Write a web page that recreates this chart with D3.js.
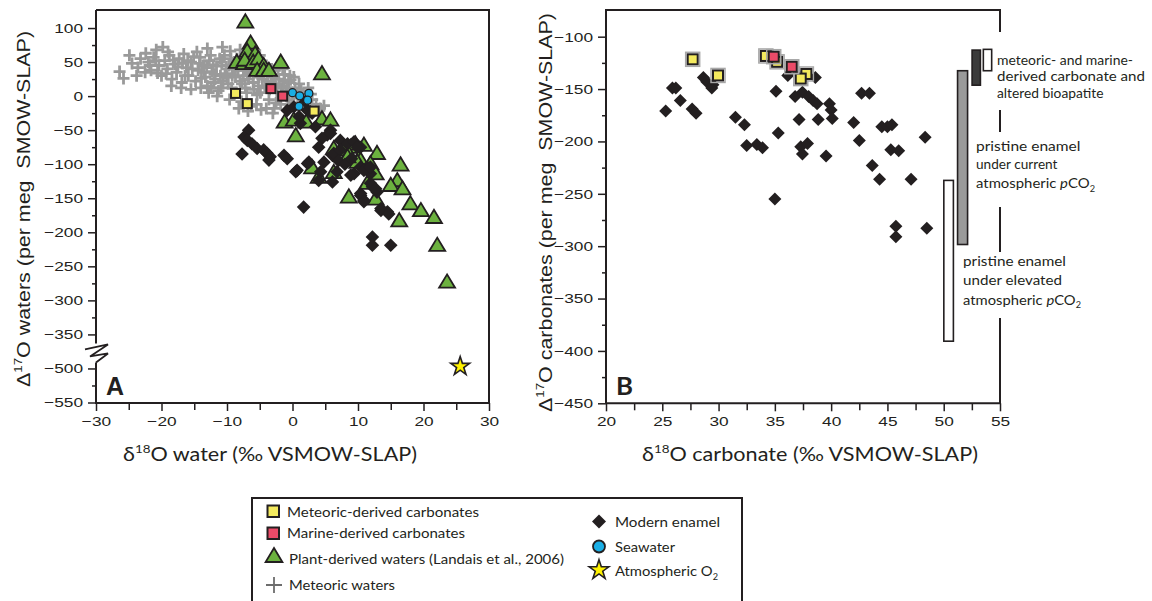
<!DOCTYPE html>
<html><head><meta charset="utf-8">
<script src="https://cdn.jsdelivr.net/npm/d3@7"></script>
<style>
html,body{margin:0;padding:0;background:#fff;}
svg{display:block;}
text{white-space:pre;}
</style></head><body>
<svg id="chart" width="1152" height="601"></svg>
<script>
// ---------------- DATA ----------------
// Panel A : δ18O water (x) vs Δ17O waters (y)
const meteoricWatersA = [
[-26.4,36],[-25.8,26],[-24.9,60],[-24.5,48],[-23.6,42],[-23.2,55],[-22.4,63],[-22.0,50],[-21.6,38],[-21.2,57],
[-20.8,68],[-20.4,45],[-20.0,30],[-19.8,72],[-19.5,52],[-19.1,40],[-18.8,60],[-18.4,25],[-18.0,47],[-17.7,35],
[-17.3,55],[-16.9,20],[-16.6,62],[-16.2,42],[-15.9,30],[-15.5,50],[-15.1,58],[-14.8,22],[-14.4,38],[-14.1,57],
[-13.7,45],[-13.3,28],[-13.0,15],[-12.7,52],[-12.3,36],[-12.0,20],[-11.6,44],[-11.3,8],[-11.0,30],[-10.7,72],
[-10.4,60],[-10.1,40],[-9.8,18],[-9.5,66],[-9.2,30],[-8.9,50],[-8.6,5],[-8.3,38],[-8.0,22],[-7.8,-8],
[-7.5,45],[-7.2,12],[-6.9,30],[-6.6,58],[-6.3,-15],[-6.0,20],[-5.7,40],[-5.4,2],[-5.1,28],[-4.8,-20],
[-4.5,48],[-4.2,12],[-3.9,33],[-3.6,-5],[-3.3,20],[-3.0,-25],[-2.7,38],[-2.4,5],[-2.1,25],[-1.8,-12],
[-1.5,15],[-1.2,32],[-0.9,0],[-0.6,20],[-0.3,24],[0.0,-10],[0.4,12],[0.8,-3],[1.3,8],[1.8,-8],
[2.4,12],[3.0,-5],[3.6,-12],[4.2,-18],[4.8,-14],[-21.8,45],[-20.6,34],[-19.0,65],[-17.5,43],[-16.0,52],
[-14.6,65],[-13.5,35],[-12.5,60],[-11.8,25],[-10.8,50],[-10.0,28],[-9.0,40],[-8.5,55],[-7.5,30],[-7.0,5],
[-6.5,35],[-5.8,50],[-5.2,15],[-4.6,25],[-4.0,45],[-3.5,10],[-3.0,28],[-2.5,-10],[-2.0,18],[-1.5,40],
[-1.0,8],[-0.5,-5],[0.2,28],[1.0,18],[1.6,3],[2.0,-15],[-9.6,-5],[-8.2,-18],[-6.8,-22],[-5.5,-12],
[-4.0,-18],[-2.8,-18],[-11.5,0],[-12.8,5],[-14.0,12],[-15.5,10],[-17.0,12],[-18.5,15],[-22.5,35],[-23.8,30],
[-13.0,70],[-8.0,68],[-5.0,60],
[-19.3,33],[-18.2,53],[-16.8,48],[-16.4,30],[-15.3,40],[-14.2,48],[-13.9,26],[-13.1,42],[-12.1,46],[-11.9,32],
[-11.1,55],[-10.6,22],[-10.3,33],[-9.7,45],[-9.3,12],[-8.7,28],[-8.1,45],[-7.7,18],[-7.3,38],[-6.7,25],
[-6.2,45],[-5.9,10],[-5.3,35],[-4.9,5],[-4.4,30],[-3.8,22],[-3.2,40],[-2.6,15],[-2.2,32],[-1.7,5],
[-1.3,22],[-0.8,12],[-0.4,30],[0.6,5],[1.4,-12],[2.8,3],[-12.4,12],[-10.9,12],[-9.4,55],[-20.9,52]
];
const plantWatersA = [
[-7.2,109],[-6.4,78],[-6.9,66],[-5.7,62],[-8.5,50],[-7.4,48],[-7.3,53],[-6.0,50],[-5.2,55],[-4.4,45],
[-5.4,38],[-4.4,38],[-3.6,38],[-1.8,50],[4.5,33],
[-1.2,-38],[0.2,-35],[2.1,-38],[4.5,-33],[5.8,-35],[0.5,-58],
[3.0,-105],[4.0,-119],[6.3,-112],[6.3,-77],[7.6,-75],[8.9,-75],[9.6,-70],[10.9,-72],[7.9,-79],
[8.6,-85],[10.1,-92],[12.9,-84],[11.9,-99],[10.4,-94],[9.9,-97],[8.4,-89],
[8.6,-148],[12.7,-151],[12.7,-114],[11.4,-128],[16.5,-101],[16.0,-124],[15.0,-131],[16.8,-136],
[18.0,-158],[19.6,-168],[16.3,-183],[21.6,-178],[22.1,-219],[23.6,-273]
];
const modernEnamelA = [
[-6.7,-50],[-7.4,-60],[-6.9,-65],[-6.2,-70],[-5.4,-77],[-4.4,-79],[-3.9,-84],[-3.4,-89],[-3.6,-94],[-7.7,-85],
[-1.3,-87],[-0.8,-92],[0.5,-111],[1.7,-163],[2.3,-99],[4.3,-111],[4.0,-124],[6.1,-126],[9.4,-114],[10.4,-104],
[11.4,-104],[10.4,-143],[10.9,-153],[12.2,-133],[12.9,-141],[13.5,-168],[14.5,-170],[12.2,-207],[12.2,-219],[15.0,-219],
[-0.8,-21],[0.2,-16],[2.7,-23],[1.2,-40],[5.8,-50],[5.3,-57],[4.5,-62],[2.5,-97],[0.7,-109],[4.0,-75],
[7.3,-65],[8.4,-70],[9.4,-67],[10.4,-75],[6.8,-111],[8.9,-116],[11.9,-114],[6.1,-87],[4.8,-97],[5.8,-55],
[6.3,-84],[7.3,-79],[9.9,-75],[10.9,-109],[11.9,-104],[11.9,-128],[12.7,-136],[10.4,-146],[10.9,-155],[13.5,-165],
[14.7,-173],[2.3,-21],[3.0,-25],[1.0,-30],[3.5,-45],[7.0,-95],[8.0,-100],[9.0,-92],[2.0,-8]
];
const meteoricCarbA = [[-8.7,4],[-6.9,-11],[3.3,-22]];
const marineCarbA   = [[-3.3,11],[-1.5,0]];
const seawaterA     = [[0.0,5],[1.1,0.5],[2.5,4],[2.3,-6],[1.0,-15]];
const atmosO2A      = [[25.6,-497]];

// Panel B : δ18O carbonate (x) vs Δ17O carbonates (y)
const modernEnamelB = [
[25.3,-171],[25.9,-149],[26.2,-149],[26.6,-161],[27.65,-169],[28.0,-173],[28.65,-139],[28.95,-143],[29.4,-149],[29.5,-146],
[31.5,-177],[32.3,-184],[32.5,-204],[33.4,-203],[33.9,-206],[35.1,-152],[35.3,-192],[35.0,-255],[36.15,-137],[36.8,-157],
[37.15,-179],[37.3,-205],[37.45,-212],[37.9,-202],[37.45,-153],[38.0,-157],[38.4,-161],[38.75,-164],[38.6,-139],[38.85,-179],
[39.55,-214],[39.85,-164],[40.0,-170],[40.1,-178],[42.0,-182],[42.5,-199],[42.7,-154],[43.4,-154],[43.65,-223],[44.3,-236],
[44.5,-186],[45.0,-186],[45.4,-184],[45.3,-208],[46.0,-209],[45.75,-281],[45.75,-291],[47.1,-236],[48.35,-196],[48.5,-283]
];
const meteoricCarbB = [[27.7,-121.6],[29.95,-137],[34.2,-118.4],[35.2,-124],[37.8,-135.6],[37.3,-140]];
const marineCarbB   = [[34.9,-119.1],[36.5,-128.7]];
// range bars: x range and y range (top, bottom)
const rangeBarsB = [
  {name:"altered (dark)",  x:[52.52,53.26], y:[-112.8,-146.3]},
  {name:"altered (open)",  x:[53.52,54.26], y:[-112.1,-132.5]},
  {name:"current pCO2",    x:[51.23,52.12], y:[-132.5,-298.4]},
  {name:"elevated pCO2",   x:[50.01,50.86], y:[-237.2,-390.7]}
];

// tick labels
const xTicksA = [-30,-20,-10,0,10,20,30];
const xMinorA = [-25,-15,-5,5,15,25];
const yTicksA = [100,50,0,-50,-100,-150,-200,-250,-300,-350,-500,-550];
const yMinorA = [75,25,-25,-75,-125,-175,-225,-275,-325,-525];
const xTicksB = [20,25,30,35,40,45,50,55];
const xMinorB = [22.5,27.5,32.5,37.5,42.5,47.5,52.5];
const yTicksB = [-100,-150,-200,-250,-300,-350,-400,-450];
const yMinorB = [-125,-175,-225,-275,-325,-375,-425];

const legendLeft  = ["Meteoric-derived carbonates","Marine-derived carbonates","Plant-derived waters (Landais et al., 2006)","Meteoric waters"];
const legendRight = ["Modern enamel","Seawater","Atmospheric O"];

// ---------------- DRAWING ----------------
const svg = d3.select("#chart");
const INK = "#231f20";
const C = {yellow:"#f4ea5e", red:"#ec4b68", green:"#6cb23f", blue:"#1aaee5", gray:"#9a9a9a", star:"#fff200"};
const TICKFONT = "'Liberation Sans', Arial, sans-serif";
const HUM = "Lato, 'Open Sans', 'Noto Sans', sans-serif";

// scales
const xA = d3.scaleLinear().domain([-30,30]).range([96,489]);
const yA = d3.scaleLinear().domain([-450,126.5]).range([402.5,10]);
const BREAK = -375;                                  // axis break between -350 and -500
const vy = v => v < BREAK ? v + 100 : v;             // broken axis mapping (data -> virtual)
const unvy = v => v < BREAK ? v - 100 : v;           // virtual -> label
const yAm = v => yA(vy(v));
const xB = d3.scaleLinear().domain([20,55]).range([606,1000]);
const yB = d3.scaleLinear().domain([-450,-75]).range([403.3,10.5]);

function stretchTicks(g, k, orient){
  g.selectAll(".tick text").each(function(){
    const t = d3.select(this);
    if(orient==="left"){
      const x = +t.attr("x"); t.attr("x",0).attr("transform",`translate(${x},0) scale(${k},1)`);
    } else {
      const y = +t.attr("y"); t.attr("y",0).attr("transform",`translate(0,${y}) scale(${k},1)`);
    }
  });
}
function styleAxis(g){
  g.select(".domain").remove();
  g.selectAll(".tick line").attr("stroke",INK).attr("stroke-width",1.5);
  g.selectAll(".tick text").attr("fill",INK).style("font-family",TICKFONT).style("font-size","13.6px");
}
function drawAxes(xs, ys, bottom, left, xt, xm, yt, ym, yfmt, ytv){
  const gx = svg.append("g").attr("transform",`translate(0,${bottom})`)
    .call(d3.axisBottom(xs).tickValues(xt).tickSize(8).tickPadding(5).tickSizeOuter(0).tickFormat(d3.format("d")));
  styleAxis(gx); stretchTicks(gx,1.27,"bottom");
  const gxm = svg.append("g").attr("transform",`translate(0,${bottom})`)
    .call(d3.axisBottom(xs).tickValues(xm).tickSize(7).tickFormat(""));
  styleAxis(gxm);
  const gy = svg.append("g").attr("transform",`translate(${left},0)`)
    .call(d3.axisLeft(ys).tickValues(ytv(yt)).tickSize(8).tickPadding(5).tickSizeOuter(0).tickFormat(yfmt));
  styleAxis(gy); stretchTicks(gy,1.27,"left");
  const gym = svg.append("g").attr("transform",`translate(${left},0)`)
    .call(d3.axisLeft(ys).tickValues(ytv(ym)).tickSize(4).tickFormat(""));
  styleAxis(gym);
}

// ---- Panel A axes ----
drawAxes(xA, yA, 403, 96, xTicksA, xMinorA, yTicksA, yMinorA,
  v => d3.format("d")(unvy(v)), arr => arr.map(vy));
// ---- Panel B axes ----
drawAxes(xB, yB, 403.3, 606, xTicksB, xMinorB, yTicksB, yMinorB, d3.format("d"), arr => arr);

// frames
const frame = svg.append("g").attr("stroke",INK).attr("stroke-width",2).attr("fill","none");
const ybreak = yA(BREAK);
frame.append("path").attr("d",`M96,10H489V403H96V${ybreak+11}M96,${ybreak-8}V10`);
frame.append("polyline").attr("stroke-width",1.8).attr("stroke-linejoin","miter")
  .attr("points",[[85,ybreak-2],[108,ybreak-7],[90,ybreak+5],[108,ybreak+2],[96,ybreak+11]].map(p=>p.join(",")).join(" "));
frame.append("path").attr("d",`M606,403.3V10H1000V403.3H606`);

// ---- markers ----
const diamond = s => `M0,${-s}L${s},0L0,${s}L${-s},0Z`;
const tri = s => `M0,${-s}L${s*1.05},${s*0.75}L${-s*1.05},${s*0.75}Z`;

function plusMarks(g, data, xs, ys, s, col, w){
  g.selectAll(null).data(data).enter().append("path")
   .attr("transform",d=>`translate(${xs(d[0])},${ys(d[1])})`)
   .attr("d",`M${-s},0H${s}M0,${-s}V${s}`).attr("stroke",col).attr("stroke-width",w).attr("fill","none");
}
function pathMarks(g, data, xs, ys, d, fill, stroke, sw){
  g.selectAll(null).data(data).enter().append("path")
   .attr("transform",p=>`translate(${xs(p[0])},${ys(p[1])})`)
   .attr("d",d).attr("fill",fill).attr("stroke",stroke).attr("stroke-width",sw).attr("stroke-linejoin","miter");
}
function squares(g, data, xs, ys, s, fill, halo){
  if(halo){
    g.selectAll(null).data(data).enter().append("rect")
     .attr("x",p=>xs(p[0])-s/2-2).attr("y",p=>ys(p[1])-s/2-2).attr("width",s+4).attr("height",s+4)
     .attr("fill","none").attr("stroke","#a8a8a8").attr("stroke-width",1.5);
  }
  g.selectAll(null).data(data).enter().append("rect")
   .attr("x",p=>xs(p[0])-s/2).attr("y",p=>ys(p[1])-s/2).attr("width",s).attr("height",s)
   .attr("fill",fill).attr("stroke",INK).attr("stroke-width",2);
}

const gA = svg.append("g");
plusMarks(gA, meteoricWatersA, xA, yAm, 6, C.gray, 2.8);
pathMarks(gA, plantWatersA, xA, yAm, tri(7.6), C.green, INK, 1.8);
pathMarks(gA, modernEnamelA, xA, yAm, diamond(6.8), INK, "none", 0);
squares(gA, meteoricCarbA, xA, yAm, 9, C.yellow, false);
squares(gA, marineCarbA, xA, yAm, 9, C.red, false);
gA.selectAll(null).data(seawaterA).enter().append("circle")
  .attr("cx",d=>xA(d[0])).attr("cy",d=>yAm(d[1])).attr("r",4)
  .attr("fill",C.blue).attr("stroke",INK).attr("stroke-width",1.3);
pathMarks(gA, atmosO2A, xA, yAm, d3.symbol(d3.symbolStar,110)(), C.star, INK, 1.6);

const gB = svg.append("g");
gB.selectAll(null).data(rangeBarsB).enter().append("rect")
  .attr("x",d=>xB(d.x[0])).attr("width",d=>xB(d.x[1])-xB(d.x[0]))
  .attr("y",d=>yB(d.y[0])).attr("height",d=>yB(d.y[1])-yB(d.y[0]))
  .attr("fill",(d,i)=>["#3b3b3b","#fff","#9a9a9a","#fff"][i]).attr("stroke",INK).attr("stroke-width",1.6);
pathMarks(gB, modernEnamelB, xB, yB, diamond(6.5), INK, "none", 0);
squares(gB, meteoricCarbB, xB, yB, 10, C.yellow, true);
squares(gB, marineCarbB, xB, yB, 10, C.red, true);

// ---- text helpers ----
function rich(sel, parts, fs){
  let shift = 0;
  parts.forEach(([t,k])=>{
    const ts = sel.append("tspan").text(t);
    let target = 0;
    if(k==="sup"){ target = -0.42*fs; ts.attr("font-size",(0.62*fs)+"px"); }
    if(k==="sub"){ target = 0.28*fs; ts.attr("font-size",(0.62*fs)+"px"); }
    if(k==="i"){ ts.attr("font-style","italic"); }
    if(target!==shift){ ts.attr("dy",target-shift); shift = target; }
  });
  return sel;
}
function label(x,y,parts,opts){
  const fs = opts.fs;
  const t = svg.append("text").attr("x",x).attr("y",y)
    .attr("font-family",opts.font).attr("font-size",fs+"px").attr("fill",INK)
    .attr("text-anchor",opts.anchor||"start");
  if(opts.weight) t.attr("font-weight",opts.weight);
  if(opts.rotate) t.attr("transform",`rotate(-90,${x},${y})`);
  rich(t, parts, fs);
  if(opts.len) t.attr("textLength",opts.len).attr("lengthAdjust","spacingAndGlyphs");
  return t;
}

// axis titles
label(30,209,[["Δ"],["17","sup"],["O waters (per meg  SMOW-SLAP)"]],{fs:18,font:TICKFONT,anchor:"middle",rotate:true,len:356});
label(552,212.5,[["Δ"],["17","sup"],["O carbonates (per meg  SMOW-SLAP)"]],{fs:18,font:TICKFONT,anchor:"middle",rotate:true,len:399});
label(270,461,[["δ"],["18","sup"],["O water (‰ VSMOW-SLAP)"]],{fs:18.5,font:HUM,anchor:"middle",len:294});
label(810,461,[["δ"],["18","sup"],["O carbonate (‰ VSMOW-SLAP)"]],{fs:18.5,font:HUM,anchor:"middle",len:336});

// panel letters
label(106,395,[["A"]],{fs:25,font:TICKFONT,weight:"bold"});
label(616,395,[["B"]],{fs:25,font:HUM,weight:"bold",len:17});

// annotations in panel B (white backing hides the frame line)
const gaps = [[32,110],[132,207],[252,318]];
gaps.forEach(g=>svg.append("rect").attr("x",995).attr("y",g[0]).attr("width",10).attr("height",g[1]-g[0]).attr("fill","#fff"));
const annFS = 14.2;
label(997,65,[["meteoric- and marine-"]],{fs:annFS,font:HUM,len:136});
label(997,81,[["derived carbonate and"]],{fs:annFS,font:HUM,len:148});
label(997,97.5,[["altered bioapatite"]],{fs:annFS,font:HUM,len:106.5});
label(976,151,[["pristine enamel"]],{fs:annFS,font:HUM,len:104.5});
label(976,169,[["under current"]],{fs:annFS,font:HUM,len:81.5});
label(976,188,[["atmospheric "],["p","i"],["CO"],["2","sub"]],{fs:annFS,font:HUM,len:119});
label(963,266,[["pristine enamel"]],{fs:annFS,font:HUM,len:103});
label(963,285,[["under elevated"]],{fs:annFS,font:HUM,len:99});
label(963,304.5,[["atmospheric "],["p","i"],["CO"],["2","sub"]],{fs:annFS,font:HUM,len:118});

// ---- legend ----
svg.append("rect").attr("x",252).attr("y",498).attr("width",490).attr("height",130)
  .attr("fill","#fff").attr("stroke",INK).attr("stroke-width",2);
const lg = svg.append("g");
lg.append("rect").attr("x",267.5).attr("y",505.5).attr("width",11.5).attr("height",11.5).attr("fill",C.yellow).attr("stroke",INK).attr("stroke-width",2);
lg.append("rect").attr("x",267.5).attr("y",527.5).attr("width",11.5).attr("height",11.5).attr("fill",C.red).attr("stroke",INK).attr("stroke-width",2);
lg.append("path").attr("transform","translate(274,556)").attr("d",tri(8)).attr("fill",C.green).attr("stroke",INK).attr("stroke-width",1.8);
lg.append("path").attr("transform","translate(274,585)").attr("d","M-8,0H8M0,-8V8").attr("stroke","#6d6d6d").attr("stroke-width",1.8);
lg.append("path").attr("transform","translate(599,521.5)").attr("d",diamond(7)).attr("fill",INK);
lg.append("circle").attr("cx",599).attr("cy",546.5).attr("r",6).attr("fill",C.blue).attr("stroke",INK).attr("stroke-width",1.8);
lg.append("path").attr("transform","translate(599,570)").attr("d",d3.symbol(d3.symbolStar,120)()).attr("fill",C.star).attr("stroke",INK).attr("stroke-width",1.6);

const lfs = 14.2;
label(287,516.5,[[legendLeft[0]]],{fs:lfs,font:HUM,len:192});
label(287,538,[[legendLeft[1]]],{fs:lfs,font:HUM,len:178});
label(289,564,[[legendLeft[2]]],{fs:lfs,font:HUM,len:275});
label(289,589.5,[[legendLeft[3]]],{fs:lfs,font:HUM,len:106});
label(615,527,[[legendRight[0]]],{fs:lfs,font:HUM,len:105});
label(615,552,[[legendRight[1]]],{fs:lfs,font:HUM,len:60});
label(615,576,[[legendRight[2]],["2","sub"]],{fs:lfs,font:HUM,len:103});
</script>
</body></html>
